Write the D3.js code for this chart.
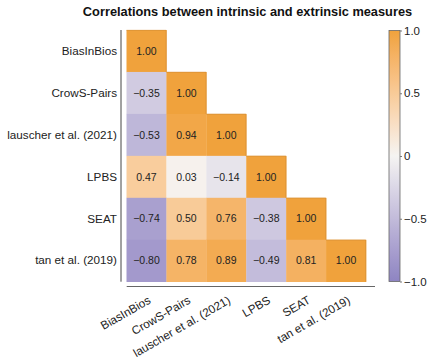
<!DOCTYPE html>
<html><head><meta charset="utf-8">
<script src="https://cdn.jsdelivr.net/npm/d3@7"></script>
<style>body{margin:0;background:#fff}svg{display:block}text{font-family:"Liberation Sans",Arial,sans-serif}</style>
</head><body>
<svg id="c" width="436" height="358"></svg>
<script>
const categories = ["BiasInBios","CrowS-Pairs","lauscher et al. (2021)","LPBS","SEAT","tan et al. (2019)"];
// lower-triangle rows (row i has i+1 values)
const rowBiasInBios = [1.00];
const rowCrowSPairs = [-0.35, 1.00];
const rowLauscher   = [-0.53, 0.94, 1.00];
const rowLPBS       = [0.47, 0.03, -0.14, 1.00];
const rowSEAT       = [-0.74, 0.50, 0.76, -0.38, 1.00];
const rowTan        = [-0.80, 0.78, 0.89, -0.49, 0.81, 1.00];
const rows = [rowBiasInBios,rowCrowSPairs,rowLauscher,rowLPBS,rowSEAT,rowTan];
const colorbarTicks = [1.0, 0.5, 0, -0.5, -1.0];
const colorbarTickLabels = ["1.0","0.5","0","\u22120.5","\u22121.0"];
const title = "Correlations between intrinsic and extrinsic measures";

const svg = d3.select("#c");
const x = d3.scaleBand().domain(categories).range([126.5, 366]).padding(0);
const y = d3.scaleBand().domain(categories).range([30, 281.7]).padding(0);
const color = d3.scaleLinear().domain([-1,0,1]).range(["#8e84c2","#f5f4f2","#f0a23c"]).interpolate(d3.interpolateLab);

const cells = [];
rows.forEach((r,i)=>r.forEach((v,j)=>cells.push({row:categories[i],col:categories[j],v,diag:i===j})));
const fmt = v => (v<0?"\u2212":"") + Math.abs(v).toFixed(2);

svg.append("g").selectAll("rect").data(cells).join("rect")
  .attr("x",d=>x(d.col)).attr("y",d=>y(d.row))
  .attr("width",x.bandwidth()+0.3).attr("height",y.bandwidth()+0.3)
  .attr("fill",d=>color(d.v));
// subtle darker edges along the staircase
svg.append("g").selectAll("path").data(cells.filter(d=>d.diag)).join("path")
  .attr("d",d=>`M${x(d.col)},${y(d.row)+0.3}H${x(d.col)+x.bandwidth()-0.3}V${y(d.row)+y.bandwidth()}`)
  .attr("fill","none").attr("stroke",d=>d3.color(color(d.v)).darker(0.4)).attr("stroke-width",0.6);

svg.append("g").selectAll("text").data(cells).join("text")
  .attr("x",d=>x(d.col)+x.bandwidth()/2).attr("y",d=>y(d.row)+y.bandwidth()/2)
  .attr("dy","0.35em").attr("text-anchor","middle").attr("font-size",10.5).attr("fill","#222")
  .text(d=>fmt(d.v));

// left axis
const yAxis = d3.axisLeft(y).tickSize(0).tickPadding(4);
const gy = svg.append("g").attr("transform","translate(121,0)").call(yAxis);
gy.select(".domain").attr("stroke","#444").attr("d",`M0,${30}V${281.7}`);
gy.selectAll("text").attr("font-size",11.7).attr("fill","#222");

// bottom axis
const xAxis = d3.axisBottom(x).tickSize(0).tickPadding(0);
const gx = svg.append("g").attr("transform","translate(0,286.5)").call(xAxis);
gx.select(".domain").attr("stroke","#666").attr("d",`M126.7,0H375`);
gx.selectAll("text").attr("font-size",11.7).attr("fill","#222")
  .attr("text-anchor","end").attr("dy",0).attr("y",0)
  .attr("transform","translate(5,16) rotate(-30)");

// title
svg.append("text").attr("x",247.5).attr("y",16).attr("text-anchor","middle")
  .attr("font-size",12.8).attr("font-weight","bold").attr("fill","#111").text(title);

// colorbar
const cbX = 389, cbW = 11, cbTop = 30.5, cbBot = 281.5;
const cy = d3.scaleLinear().domain([-1,1]).range([cbBot,cbTop]);
const defs = svg.append("defs");
const grad = defs.append("linearGradient").attr("id","cbg").attr("x1",0).attr("y1",1).attr("x2",0).attr("y2",0);
d3.range(0,1.0001,0.05).forEach(t=>grad.append("stop").attr("offset",t).attr("stop-color",color(-1+2*t)));
svg.append("rect").attr("x",cbX).attr("y",cbTop).attr("width",cbW).attr("height",cbBot-cbTop)
  .attr("fill","url(#cbg)").attr("stroke","#666").attr("stroke-width",0.8);
const cbAxis = d3.axisRight(cy).tickValues(colorbarTicks).tickSize(2).tickPadding(2)
  .tickFormat((d,i)=>colorbarTickLabels[i]);
const gc = svg.append("g").attr("transform",`translate(${cbX+cbW},0)`).call(cbAxis);
gc.select(".domain").remove();
gc.selectAll("line").attr("stroke","#777");
gc.selectAll("text").attr("font-size",11.5).attr("fill","#222");
</script>
</body></html>
